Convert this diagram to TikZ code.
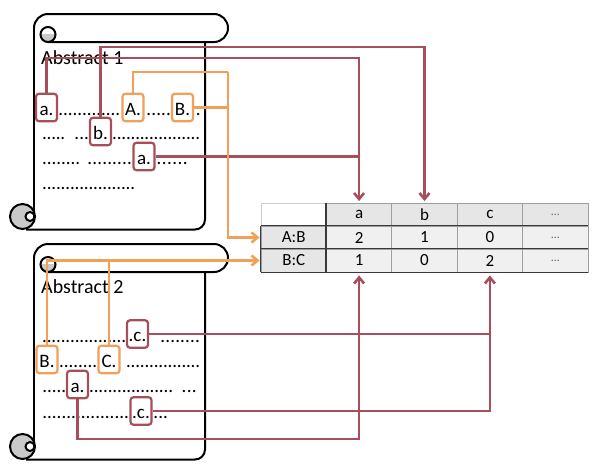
\documentclass[tikz,border=0pt]{standalone}
\usepackage{fontspec}
\setmainfont{Carlito}
\usetikzlibrary{arrows.meta}
\definecolor{cred}{HTML}{A84E5A}
\definecolor{corange}{HTML}{F2A057}
\definecolor{curlgray}{HTML}{C9C9C9}
\definecolor{cellgray}{HTML}{F0F0F0}
\definecolor{headgray}{HTML}{E6E6E6}
\newcommand\dotrun[1]{\hbox to #1pt{\xleaders\hbox to 4.6pt{\hss.\hss}\hfill}}
\newcommand\smalldots{{\fontsize{12}{12}\selectfont\color{black!60}...}}
\newcommand\drawscroll[1]{%
\begin{scope}[shift={(0,#1)}]
 \fill[white] (34,28) rectangle (205,230);
 \draw[scrl] (34,28) -- (34,221);
 \draw[scrl, rounded corners=10pt] (26,229.5) -- (205,229.5) -- (205,40);
 \filldraw[scrl, fill=white, rounded corners=14pt] (48,14) -- (228,14) -- (228,42) -- (48,42);
 \draw[scrl] (34,28) .. controls (34,20.3) and (40.3,14) .. (48,14);
 \fill[white] (48,34.5) circle (7.5);
 \begin{scope}\clip (39,34.5) rectangle (57,43); \fill[curlgray] (48,34.5) circle (7.5); \end{scope}
 \draw[scrl] (48,34.5) circle (7.5);
 \filldraw[scrl, fill=curlgray] (22.5,216.5) circle (12.5);
 \filldraw[scrl, fill=white] (30,216.5) circle (4.5);
 \draw[scrl] (34,205) -- (34,221);
\end{scope}}
\begin{document}
\begin{tikzpicture}[x=1pt,y=-1pt,
  scrl/.style={line width=2pt, draw=black},
  lbox/.style={rounded corners=3pt, line width=2.2pt, fill=white, minimum width=21pt, minimum height=27.5pt, inner sep=0pt, text height=15pt, text depth=0pt, font=\fontsize{19}{19}\selectfont},
  rbox/.style={lbox, draw=cred},
  obox/.style={lbox, draw=corange},
  dotrow/.style={anchor=base west, inner sep=0pt, font=\fontsize{19}{19}\selectfont},
  title/.style={anchor=base west, inner sep=0pt, font=\fontsize{20}{20}\selectfont},
  rline/.style={draw=cred, line width=2.6pt},
  oline/.style={draw=corange, line width=2.6pt},
  tip/.style={-{Straight Barb[length=6pt,width=10pt]}},
  cell/.style={draw=gray!75, line width=0.9pt, minimum width=65.4pt, minimum height=23pt, inner sep=0pt, font=\fontsize{17}{17}\selectfont, fill=cellgray},
  hcell/.style={cell, fill=headgray},
]
\useasboundingbox (0,0) rectangle (600,466);
\fill[white] (0,0) rectangle (600,466);

% scrolls
\drawscroll{0}
\drawscroll{230}

% titles
\node[title] (t1) at (41,64) {Abstract 1};
\node[title] (t2) at (41,293) {Abstract 2};

% dotted text rows, abstract 1
\node[dotrow] (d1a) at (58,115) {\dotrun{62}};
\node[dotrow] (d1b) at (146,115) {\dotrun{25}};
\node[dotrow] (d1c) at (195,115) {\dotrun{6}};
\node[dotrow] (d2a) at (42,139) {\dotrun{23}};
\node[dotrow] (d2b) at (74,139) {\dotrun{15}};
\node[dotrow] (d2c) at (112,139) {\dotrun{88}};
\node[dotrow] (d3a) at (42,164) {\dotrun{38}};
\node[dotrow] (d3b) at (87,164) {\dotrun{45}};
\node[dotrow] (d3c) at (156,164) {\dotrun{32}};
\node[dotrow] (d4a) at (42,189) {\dotrun{93}};
% dotted text rows, abstract 2
\node[dotrow] (e1a) at (42,342) {\dotrun{84}};
\node[dotrow] (e1b) at (160,342) {\dotrun{40}};
\node[dotrow] (e2a) at (59,367) {\dotrun{38}};
\node[dotrow] (e2b) at (126,367) {\dotrun{74}};
\node[dotrow] (e3a) at (42,392) {\dotrun{24}};
\node[dotrow] (e3b) at (89,392) {\dotrun{84}};
\node[dotrow] (e3c) at (181,392) {\dotrun{16}};
\node[dotrow] (e4a) at (42,418) {\dotrun{87}};
\node[dotrow] (e4b) at (153,418) {\dotrun{15}};

% label boxes
\node[rbox] (a1) at (46.5,107.5) {a.};
\node[obox] (A1) at (133,107.5) {A.};
\node[obox] (B1) at (182.5,107.5) {B.};
\node[rbox] (b1) at (100.5,131.5) {b.};
\node[rbox] (a1r3) at (144,156.5) {a.};
\node[rbox] (c2a) at (137.5,334) {.c.};
\node[obox] (B2) at (47,359.5) {B.};
\node[obox] (C2) at (109,359.5) {C.};
\node[rbox] (a2) at (77.5,384.5) {a.};
\node[rbox] (c2b) at (141,411) {.c.};

% table
\node[cell, fill=white, draw=gray!40] (h0) at (293.7,214.5) {};
\node[hcell] (ha) at (359.1,214.5) {a};
\node[hcell] (hb) at (424.5,214.5) {b};
\node[hcell] (hc) at (489.9,214.5) {c};
\node[hcell] (hd) at (555.3,214.5) {\smalldots};
\node[hcell] (rAB) at (293.7,237.5) {A:B};
\node[cell] (aAB) at (359.1,237.5) {2};
\node[cell] (bAB) at (424.5,237.5) {1};
\node[cell] (cAB) at (489.9,237.5) {0};
\node[cell] (dAB) at (555.3,237.5) {\smalldots};
\node[hcell] (rBC) at (293.7,260.5) {B:C};
\node[cell] (aBC) at (359.1,260.5) {1};
\node[cell] (bBC) at (424.5,260.5) {0};
\node[cell] (cBC) at (489.9,260.5) {2};
\node[cell] (dBC) at (555.3,260.5) {\smalldots};
\draw[gray!45!black, line width=1.3pt] (rAB.north west) -- (dAB.north east);
\draw[gray!45!black, line width=1.3pt] (rBC.north west) -- (dBC.north east);
\draw[gray!45!black, line width=1.3pt] (rBC.south west) -- (dBC.south east);
\draw[gray!45!black, line width=1.3pt] (rAB.north west) -- (rBC.south west);
\draw[gray!45!black, line width=1.3pt] (ha.north west) -- (aBC.south west);

% connectors, abstract 1
\coordinate (ka) at (359.1,58);
\coordinate (kb) at (424.5,47);
\coordinate (ko) at (228,72);
\draw[rline, tip, shorten >=1.5pt] (a1.north) |- (ka) -- (ha.north);
\draw[rline, tip, shorten >=1.5pt] (b1.north) |- (kb) -- (hb.north);
\draw[rline] (a1r3.east) -- (a1r3.east -| ha.north);
\draw[oline] (A1.north) |- (ko);
\draw[oline, tip, shorten >=1pt] (ko) |- (rAB.west);
\draw[oline] (B1.east) -- (B1.east -| ko);

% connectors, abstract 2
\coordinate (kc) at (359.1,439);
\draw[oline, tip, shorten >=1pt] (B2.north) |- (rBC.west);
\draw[oline] (C2.north) -- (C2.north |- rBC.west);
\draw[rline] (c2a.east) -- (c2a.east -| cBC.south);
\draw[rline, tip, shorten >=3pt] (c2b.east) -| (cBC.south);
\draw[rline, tip, shorten >=3pt] (a2.south) |- (kc) -- (aBC.south);
\end{tikzpicture}
\end{document}
